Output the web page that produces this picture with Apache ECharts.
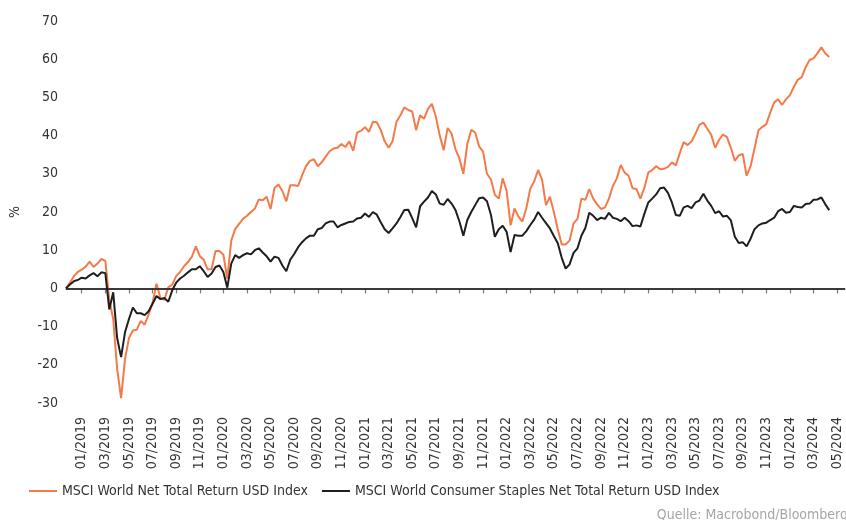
<!DOCTYPE html>
<html>
<head>
<meta charset="utf-8">
<title>MSCI World vs Consumer Staples</title>
<script src="https://cdn.jsdelivr.net/npm/echarts@6/dist/echarts.min.js"></script>
<style>
  html, body { margin: 0; padding: 0; background: #fff; }
  #chart { width: 846px; height: 520px; }
</style>
</head>
<body>
<div id="chart"></div>
<script>
// x-axis: one category per third of a month, ticks every 2 months
const tickLabels = [
  '01/2019', '03/2019', '05/2019', '07/2019', '09/2019', '11/2019',
  '01/2020', '03/2020', '05/2020', '07/2020', '09/2020', '11/2020',
  '01/2021', '03/2021', '05/2021', '07/2021', '09/2021', '11/2021',
  '01/2022', '03/2022', '05/2022', '07/2022', '09/2022', '11/2022',
  '01/2023', '03/2023', '05/2023', '07/2023', '09/2023', '11/2023',
  '01/2024', '03/2024', '05/2024'
]
const firstTick = 4
const stepsPerTick = 6
const categoryCount = 199

const seriesNames = [
  'MSCI World Net Total Return USD Index',
  'MSCI World Consumer Staples Net Total Return USD Index'
]

// MSCI World Net Total Return USD Index, %
const worldNet = [
  0, 1.5, 3.2, 4.3, 4.9, 5.7, 7.0, 5.6, 6.5, 7.7,
  7.2, -3.0, -8.0, -21.0, -28.7, -18.5, -13.0, -11.0, -10.8, -8.5,
  -9.5, -6.8, -3.8, 1.2, -2.5, -3.0, 0.3, 1.0, 3.2, 4.3,
  5.8, 6.9, 8.3, 11.0, 8.5, 7.5, 5.0, 5.0, 9.8, 9.8,
  8.8, 2.6, 12.5, 15.5, 16.9, 18.2, 19.0, 20.0, 20.9, 23.3,
  23.1, 24.0, 20.8, 26.3, 27.2, 25.5, 22.8, 27.0, 27.0, 26.8,
  29.6, 32.0, 33.4, 33.8, 32.0, 33.0, 34.5, 35.9, 36.6, 36.8,
  37.8, 37.0, 38.5, 36.0, 40.8, 41.3, 42.2, 41.0, 43.6, 43.5,
  41.5, 38.5, 36.8, 38.5, 43.6, 45.3, 47.4, 46.7, 46.3, 41.4,
  45.3, 44.4, 47.0, 48.3, 45.0, 40.0, 36.2, 42.0, 40.5, 36.4,
  34.0, 30.0, 37.8, 41.5, 40.8, 37.2, 35.8, 30.0, 28.5, 24.5,
  23.5, 28.8, 25.5, 16.5, 20.9, 18.8, 17.5, 21.0, 26.1, 28.0,
  31.0, 28.5, 21.8, 24.0, 20.0, 15.5, 11.5, 11.5, 12.5, 17.0,
  18.2, 23.5, 23.2, 26.0, 23.5, 22.0, 20.8, 21.2, 23.5, 26.8,
  28.8, 32.3, 30.3, 29.5, 26.2, 26.0, 23.5, 26.3, 30.3, 31.0,
  32.0, 31.2, 31.3, 31.8, 33.0, 32.2, 35.4, 38.3, 37.5, 38.5,
  40.5, 42.8, 43.4, 41.8, 40.2, 36.8, 38.9, 40.3, 39.6, 36.8,
  33.4, 34.8, 35.2, 29.5, 32.0, 36.6, 41.4, 42.3, 43.0, 46.0,
  48.7, 49.5, 48.0, 49.5, 50.6, 52.8, 54.6, 55.3, 57.9, 59.8,
  60.2, 61.6, 63.1, 61.5, 60.6
]

// MSCI World Consumer Staples Net Total Return USD Index, %
const consumerStaples = [
  0, 1.0, 1.9, 2.2, 2.8, 2.6, 3.4, 4.0, 3.2, 4.2,
  4.0, -5.5, -1.0, -13.0, -18.0, -11.5, -8.0, -5.0, -6.5, -6.5,
  -7.0, -6.0, -4.0, -2.0, -2.8, -2.5, -3.5, -0.5, 1.5, 2.6,
  3.3, 4.2, 5.0, 5.0, 5.8, 4.5, 3.0, 3.9, 5.6, 6.0,
  4.3, 0.2, 6.5, 8.7, 8.0, 8.7, 9.2, 8.9, 10.0, 10.5,
  9.4, 8.4, 7.0, 8.3, 8.0, 6.0, 4.5, 7.5, 9.0, 10.8,
  12.1, 13.1, 13.8, 13.8, 15.5, 15.8, 17.0, 17.5, 17.5, 16.0,
  16.6, 17.0, 17.4, 17.5, 18.3, 18.5, 19.6, 18.7, 20.0, 19.3,
  17.3, 15.5, 14.5, 15.7, 17.0, 18.7, 20.5, 20.6, 18.4, 16.0,
  21.5, 22.7, 23.8, 25.5, 24.6, 22.2, 21.9, 23.4, 22.2, 20.5,
  17.5, 13.8, 17.9, 20.0, 21.8, 23.6, 23.8, 22.8, 19.3, 13.5,
  15.5, 16.4, 14.8, 9.5, 14.0, 13.8, 13.8, 15.0, 16.6, 18.0,
  20.0, 18.5, 17.1, 15.7, 13.7, 11.8, 8.0, 5.2, 6.3, 9.3,
  10.5, 13.8, 15.8, 19.8, 19.0, 17.9, 18.5, 18.2, 19.8, 18.5,
  18.2, 17.6, 18.5, 17.6, 16.3, 16.5, 16.2, 19.5, 22.5, 23.5,
  24.6, 26.2, 26.4, 25.0, 22.5, 19.2, 19.0, 21.2, 21.6, 21.0,
  22.5, 23.0, 24.8, 23.0, 21.6, 19.7, 20.2, 18.8, 19.0, 17.8,
  13.5, 11.9, 12.1, 11.0, 13.0, 15.5, 16.5, 17.0, 17.2, 17.9,
  18.5, 20.2, 20.8, 19.8, 20.0, 21.6, 21.3, 21.2, 22.1, 22.2,
  23.2, 23.3, 23.8, 22.0, 20.5
]

const fontFamily = "'DejaVu Sans Condensed', 'Liberation Sans Narrow', sans-serif"

function isTick (index) {
  return index >= firstTick && (index - firstTick) % stepsPerTick === 0
}

const categories = []
for (let i = 0; i < categoryCount; i++) {
  categories.push(isTick(i) ? tickLabels[(i - firstTick) / stepsPerTick] : 'c' + i)
}

const chart = echarts.init(document.getElementById('chart'), null, { renderer: 'canvas' })

const option = {
  animation: false,
  backgroundColor: '#ffffff',
  textStyle: { fontFamily: fontFamily },
  title: {
    text: 'Quelle: Macrobond/Bloomberg',
    right: -7,
    top: 503,
    textStyle: { color: '#a6a6a6', fontSize: 14, fontWeight: 'normal', fontFamily: fontFamily }
  },
  legend: {
    left: 24,
    top: 479,
    itemWidth: 28,
    itemHeight: 2,
    itemGap: 14,
    icon: 'rect',
    textStyle: { color: '#333333', fontSize: 14, fontFamily: fontFamily },
    data: seriesNames
  },
  grid: {
    left: 59,
    right: 1,
    top: 21,
    bottom: 117,
    containLabel: false
  },
  xAxis: {
    type: 'category',
    boundaryGap: false,
    data: categories,
    axisLine: { lineStyle: { color: '#7a7a7a', width: 1.5 } },
    axisTick: {
      interval: function (index) { return isTick(index) },
      length: 5,
      lineStyle: { color: '#7a7a7a', width: 1.2 }
    },
    axisLabel: {
      interval: function (index) { return isTick(index) },
      rotate: 90,
      margin: 14,
      color: '#333333',
      fontSize: 14,
      fontFamily: fontFamily
    },
    splitLine: { show: false }
  },
  yAxis: {
    type: 'value',
    min: -30,
    max: 70,
    interval: 10,
    name: '%',
    nameLocation: 'middle',
    nameRotate: 90,
    nameGap: 44,
    nameTextStyle: { color: '#333333', fontSize: 14, fontFamily: fontFamily },
    axisLine: { show: false },
    axisTick: { show: false },
    axisLabel: { margin: 8, color: '#333333', fontSize: 14, fontFamily: fontFamily },
    splitLine: { show: false }
  },
  series: [
    {
      name: seriesNames[0],
      type: 'line',
      data: worldNet,
      symbol: 'none',
      color: '#f47a4a',
      lineStyle: { color: '#f47a4a', width: 2 },
      markLine: {
        silent: true,
        symbol: 'none',
        label: { show: false },
        lineStyle: { color: '#1a1a1a', width: 1.5, type: 'solid' },
        data: [{ yAxis: 0 }]
      }
    },
    {
      name: seriesNames[1],
      type: 'line',
      data: consumerStaples,
      symbol: 'none',
      color: '#1e1e1e',
      lineStyle: { color: '#1e1e1e', width: 2 }
    }
  ]
}

chart.setOption(option)
</script>
</body>
</html>
